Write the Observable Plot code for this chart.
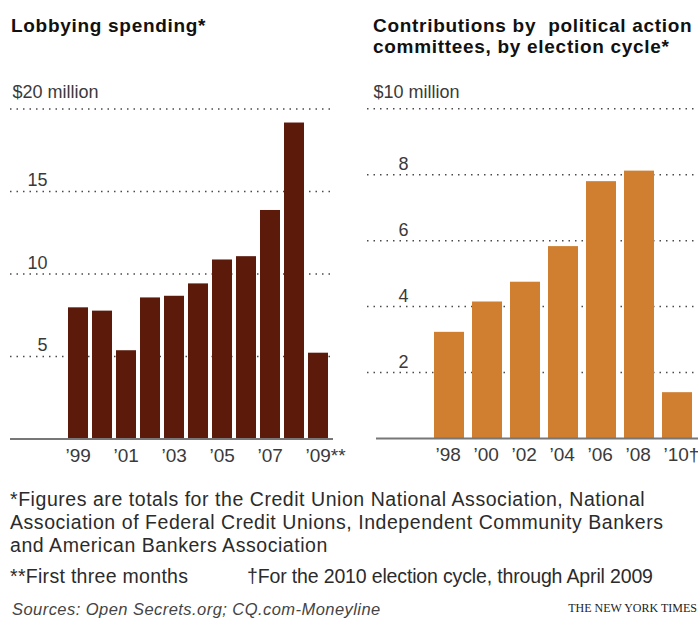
<!DOCTYPE html>
<html>
<head>
<meta charset="utf-8">
<script src="https://cdn.jsdelivr.net/npm/d3@7"></script>
<script src="https://cdn.jsdelivr.net/npm/@observablehq/plot@0.6"></script>
<style>
html, body { margin: 0; padding: 0; background: #fff; }
#wrap { position: relative; width: 698px; height: 621px; overflow: hidden;
  font-family: "Liberation Sans", Arial, Helvetica, sans-serif; }
.t { position: absolute; font-weight: bold; font-size: 19px; line-height: 21px; color: #111;
  letter-spacing: 0.7px; white-space: pre; }
.n { position: absolute; left: 10px; font-size: 19.5px; line-height: 22.75px; color: #2b2b2b;
  letter-spacing: 0.55px; white-space: pre; }
.src { position: absolute; left: 12px; top: 599px; font-size: 16.5px; line-height: 20px; font-style: italic;
  color: #444; letter-spacing: 0.45px; white-space: pre; }
.nyt { position: absolute; right: 1px; top: 601px; font-family: "Liberation Serif", "DejaVu Serif", serif;
  font-size: 12px; line-height: 14px; color: #222; white-space: pre; }
.chart { position: absolute; top: 70px; }
</style>
</head>
<body>
<div id="wrap">
  <div class="t" style="left:11px;top:15px;">Lobbying spending*</div>
  <div class="t" style="left:373px;top:15px;">Contributions by  political action
committees, by election cycle*</div>
  <div id="left" class="chart" style="left:0px;"></div>
  <div id="right" class="chart" style="left:350px;"></div>
  <div class="n" style="top:488px;">*Figures are totals for the Credit Union National Association, National
Association of Federal Credit Unions, Independent Community Bankers
and American Bankers Association</div>
  <div class="n" style="top:565px;letter-spacing:0.3px;">**First three months</div>
  <div class="n" style="top:565px;left:247px;letter-spacing:-0.15px;">†For the 2010 election cycle, through April 2009</div>
  <div class="src">Sources: Open Secrets.org; CQ.com-Moneyline</div>
  <div class="nyt">THE NEW YORK TIMES</div>
</div>
<script>
// ---- Lobbying spending (millions of dollars) ----
const lobbyYears = [1999, 2000, 2001, 2002, 2003, 2004, 2005, 2006, 2007, 2008, 2009];
const lobbyValues = [7.95, 7.75, 5.35, 8.55, 8.65, 9.4, 10.85, 11.05, 13.85, 19.15, 5.2];
const lobbyTicks = [1999, 2001, 2003, 2005, 2007, 2009];
const lobbyTickLabels = ["’99", "’01", "’03", "’05", "’07", "’09**"];
const lobbyGrid = [5, 10, 15, 20];
const lobbyGridLabels = ["5", "10", "15"];
const lobbyTopLabel = "$20 million";

// ---- PAC contributions by election cycle (millions of dollars) ----
const pacCycles = [1998, 2000, 2002, 2004, 2006, 2008, 2010];
const pacValues = [3.22, 4.14, 4.74, 5.82, 7.79, 8.11, 1.39];
const pacTickLabels = ["’98", "’00", "’02", "’04", "’06", "’08", "’10†"];
const pacGrid = [2, 4, 6, 8, 10];
const pacGridLabels = ["2", "4", "6", "8"];
const pacTopLabel = "$10 million";

const lobby = lobbyYears.map((year, i) => ({year, value: lobbyValues[i]}));
const pac = pacCycles.map((cycle, i) => ({cycle, value: pacValues[i]}));

const font = '"Liberation Sans", Arial, Helvetica, sans-serif';
const gridStyle = {stroke: "#4a4a4a", strokeWidth: 1.5, strokeDasharray: "1.5,5"};
const textColor = "#3a3a3a";

const left = Plot.plot({
  width: 350, height: 400,
  marginTop: 38.5, marginBottom: 31.5, marginLeft: 10, marginRight: 15,
  style: {fontFamily: font, background: "transparent", overflow: "visible"},
  x: {type: "band", domain: lobbyYears, range: [64, 331], paddingInner: 0.18, paddingOuter: 0, label: null},
  y: {domain: [0, 20], label: null},
  marks: [
    Plot.ruleY(lobbyGrid, gridStyle),
    Plot.barY(lobby, {x: "year", y: "value", fill: "#5c1a0b"}),
    Plot.ruleY([0], {stroke: "#777", strokeWidth: 2, insetRight: 2}),
    Plot.axisY({ticks: [5, 10, 15], tickFormat: d => lobbyGridLabels[[5, 10, 15].indexOf(d)], label: null,
      tickSize: 0, tickPadding: 0, textAnchor: "end", dx: 37, dy: -11, fontSize: 18, color: textColor}),
    Plot.axisY({ticks: [20], tickFormat: () => lobbyTopLabel, label: null,
      tickSize: 0, tickPadding: 0, textAnchor: "start", dx: 2, dy: -17, fontSize: 18, color: textColor}),
    Plot.axisX({ticks: lobbyTicks, tickFormat: d => lobbyTickLabels[lobbyTicks.indexOf(d)], label: null,
      tickSize: 0, tickPadding: 9, textAnchor: "start", dx: -13, fontSize: 19, color: textColor})
  ]
});
document.getElementById("left").appendChild(left);

const right = Plot.plot({
  width: 348, height: 400,
  marginTop: 38.3, marginBottom: 32, marginLeft: 17, marginRight: 0,
  style: {fontFamily: font, background: "transparent", overflow: "visible"},
  x: {type: "band", domain: pacCycles, range: [82.3, 344], paddingInner: 0.223, paddingOuter: 0, label: null},
  y: {domain: [0, 10], label: null},
  marks: [
    Plot.ruleY(pacGrid, gridStyle),
    Plot.barY(pac, {x: "cycle", y: "value", fill: "#cf7f2f"}),
    Plot.ruleY([0], {stroke: "#777", strokeWidth: 2, insetLeft: 9}),
    Plot.axisY({ticks: [2, 4, 6, 8], tickFormat: d => pacGridLabels[[2, 4, 6, 8].indexOf(d)], label: null,
      tickSize: 0, tickPadding: 0, textAnchor: "end", dx: 41, dy: -10.5, fontSize: 18, color: textColor}),
    Plot.axisY({ticks: [10], tickFormat: () => pacTopLabel, label: null,
      tickSize: 0, tickPadding: 0, textAnchor: "start", dx: 6, dy: -17, fontSize: 18, color: textColor}),
    Plot.axisX({ticks: pacCycles, tickFormat: d => pacTickLabels[pacCycles.indexOf(d)], label: null,
      tickSize: 0, tickPadding: 9, textAnchor: "start", dx: -14, fontSize: 19, color: textColor})
  ]
});
document.getElementById("right").appendChild(right);
</script>
</body>
</html>
